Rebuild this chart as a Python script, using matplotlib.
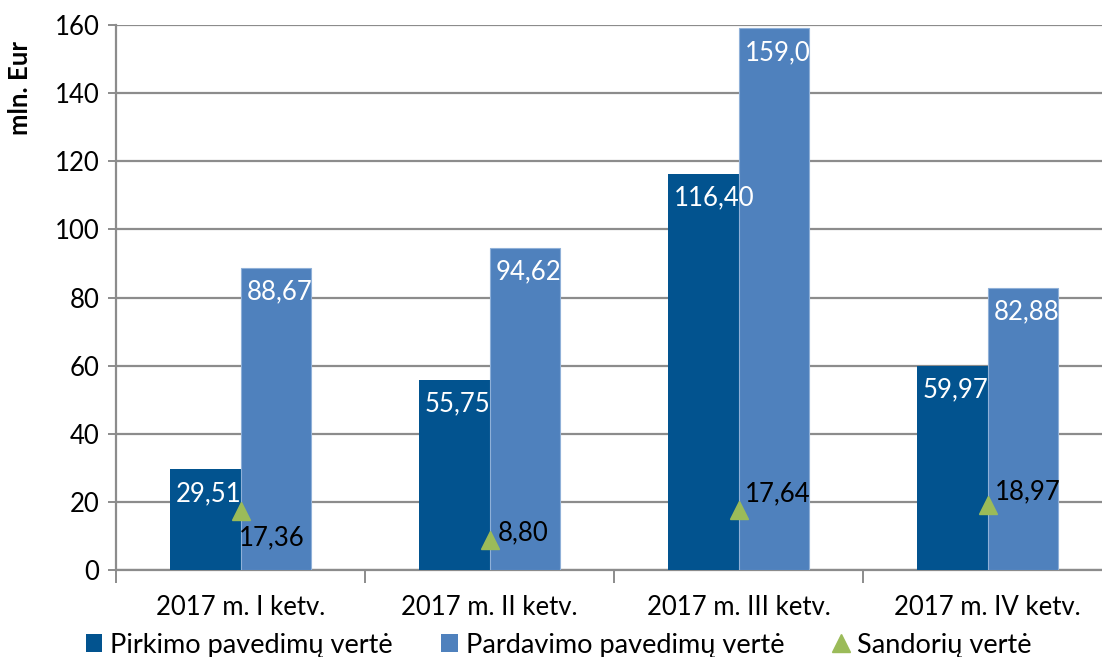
import matplotlib
matplotlib.use("Agg")
import matplotlib.pyplot as plt
import numpy as np
from matplotlib.lines import Line2D
from matplotlib.patches import Patch

categories = ["2017 m. I ketv.", "2017 m. II ketv.", "2017 m. III ketv.", "2017 m. IV ketv."]
pirkimo = [29.51, 55.75, 116.40, 59.97]
pardavimo = [88.67, 94.62, 159.01, 82.88]
sandoriu = [17.36, 8.80, 17.64, 18.97]
series_names = ["Pirkimo pavedimų vertė", "Pardavimo pavedimų vertė", "Sandorių vertė"]
yticks = [0, 20, 40, 60, 80, 100, 120, 140, 160]

plt.rcParams['font.family'] = ['Lato', 'DejaVu Sans']
FS = 18.5
LFS = 19.5
C_DARK = "#02538f"
C_LIGHT = "#4f81bd"
C_TRI = "#9bbb59"
GRID = "#8c8c8c"

fig = plt.figure(figsize=(11.02, 6.57), dpi=100)
ax = fig.add_axes([116/1102, 1-570/657, 996/1102, (570-25)/657])

x = np.arange(len(categories))
w = 0.285
b1 = ax.bar(x - w/2, pirkimo, w, color=C_DARK, zorder=3)
b2 = ax.bar(x + w/2, pardavimo, w, color=C_LIGHT, edgecolor="#8fb0d8", linewidth=0.8, zorder=3)
ax.plot(x, sandoriu, linestyle="none", marker="^", markersize=13, color=C_TRI, zorder=5)

ax.set_xlim(-0.5, 3.5)
ax.set_ylim(0, 160)
ax.set_yticks(yticks)
ax.set_yticklabels([str(v) for v in yticks], fontsize=FS)
ax.yaxis.grid(True, color=GRID, linewidth=1.6, zorder=0)
ax.tick_params(axis='y', length=6, width=1.4, color=GRID, pad=6)

ax.set_xticks(np.arange(-0.5, 3.6, 1.0))
ax.set_xticklabels([])
ax.tick_params(axis='x', which='major', length=9, width=1.4, color=GRID)
ax.set_xticks(x, minor=True)
ax.set_xticklabels(categories, minor=True, fontsize=FS)
ax.tick_params(axis='x', which='minor', length=0, pad=18)

for s in ["top", "right"]:
    ax.spines[s].set_visible(False)
for s in ["left", "bottom"]:
    ax.spines[s].set_color(GRID)
    ax.spines[s].set_linewidth(1.6)

def fmt(v):
    return f"{v:.2f}".replace(".", ",")

for bars, vals in ((b1, pirkimo), (b2, pardavimo)):
    for bar, v in zip(bars, vals):
        x0 = bar.get_x()
        t = ax.annotate(fmt(v), (x0, v), xytext=(6, -24), textcoords="offset pixels",
                        ha="left", va="center", color="white", fontsize=FS, zorder=6)
        if bars is b2:
            t.set_clip_path(bar)

offsets = [(-2, -27), (8, 7), (6, 16), (7, 14)]
for xi, v, off in zip(x, sandoriu, offsets):
    ax.annotate(fmt(v), (xi, v), xytext=off, textcoords="offset pixels",
                ha="left", va="center", color="black", fontsize=FS, zorder=6)

fig.text(20/1102, 1-88/657, "mln. Eur", rotation=90, ha="center", va="center",
         fontsize=FS, fontweight="bold")

handles = [Patch(facecolor=C_DARK), Patch(facecolor=C_LIGHT),
           Line2D([], [], linestyle="none", marker="^", markersize=13, color=C_TRI)]
fig.legend(handles, series_names, loc="center", bbox_to_anchor=(0.507, 1-645/657), ncol=3,
           frameon=False, fontsize=LFS, handlelength=0.6, handleheight=0.6, handletextpad=0.3,
           columnspacing=1.8, borderaxespad=0, borderpad=0)

fig.savefig("out.png", dpi=100)
